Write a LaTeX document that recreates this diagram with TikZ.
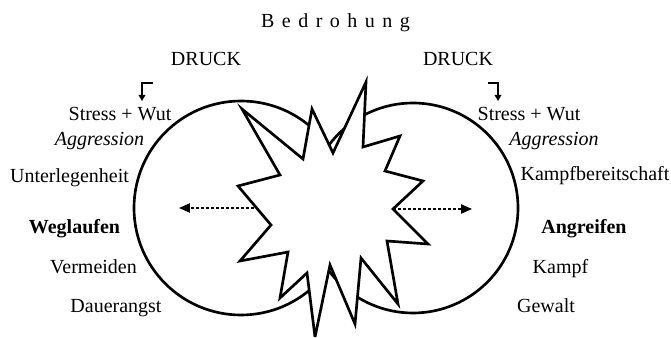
\documentclass[tikz,border=0pt]{standalone}
\usepackage{fontspec}
\setmainfont{Liberation Serif}
\usetikzlibrary{arrows.meta}

\begin{document}
\begin{tikzpicture}[
  x=0.6pt, y=-0.6pt,
  txt/.style={anchor=base, inner sep=0pt, font=\fontsize{12}{14}\selectfont},
  ring/.style={draw, circle, line width=1.6pt, inner sep=0pt},
  hook/.style={-{Triangle[length=3.6pt,width=4pt]}, line width=0.8pt},
  push/.style={-{Triangle[length=6.5pt,width=5.5pt]}, dash pattern=on 2pt off 1pt, line width=0.8pt}
]
  \useasboundingbox (0,0) rectangle (671,338);

  % the two reaction circles
  \node[ring, minimum size=128.4pt] (flight) at (241,208) {};
  \node[ring, minimum size=126pt] (fight) at (413,208) {};

  % the burst in the middle
  \draw[line width=1.6pt, fill=white, miter limit=6]
    (242,109) -- (280,175) -- (238,186) -- (271,225) -- (240,261) -- (288,252)
    -- (280,298) -- (307,273) -- (315,337) -- (330,265) -- (355,324) -- (361,258)
    -- (398,304) -- (387,241) -- (428,244) -- (393,209) -- (423,181) -- (385,171)
    -- (400,136) -- (363,147) -- (366,82) -- (333,153) -- (312,109) -- (303,159)
    -- cycle;

  % dashed pushes out of the burst
  \coordinate (pushL) at (254,208);
  \coordinate (tipL) at (179,208);
  \coordinate (pushR) at (393,209);
  \coordinate (tipR) at (472,209);
  \draw[push] (pushL) -- (tipL);
  \draw[push] (pushR) -- (tipR);

  % labels
  \node[txt] (bedrohung) at (335.5,28) {\spaceskip=0.375em B e d r o h u n g};
  \node[txt] (druckL) at (206,66) {DRUCK};
  \node[txt] (druckR) at (458,66) {DRUCK};

  \node[txt] (stressL) at (120,121) {Stress + Wut};
  \node[txt] (aggrL) at (99.5,146) {\itshape Aggression};
  \node[txt] (unterleg) at (69.5,182.5) {Unterlegenheit};
  \node[txt] (weglauf) at (74.5,234) {\bfseries Weglaufen};
  \node[txt] (vermeid) at (93.5,274) {Vermeiden};
  \node[txt] (dauer) at (116,312.5) {Dauerangst};

  \node[txt] (stressR) at (529,121) {Stress + Wut};
  \node[txt] (aggrR) at (554,146) {\itshape Aggression};
  \node[txt] (kampfber) at (595,180.5) {Kampfbereitschaft};
  \node[txt] (angreif) at (584,234) {\bfseries Angreifen};
  \node[txt] (kampf) at (560.5,274) {Kampf};
  \node[txt] (gewalt) at (546,312.5) {Gewalt};

  % bent arrows under DRUCK
  \coordinate (hookL) at (153,83);
  \coordinate (hookLend) at (142,101);
  \coordinate (hookR) at (488,83);
  \coordinate (hookRend) at (498,101);
  \draw[hook] (hookL) -| (hookLend);
  \draw[hook] (hookR) -| (hookRend);
\end{tikzpicture}
\end{document}
